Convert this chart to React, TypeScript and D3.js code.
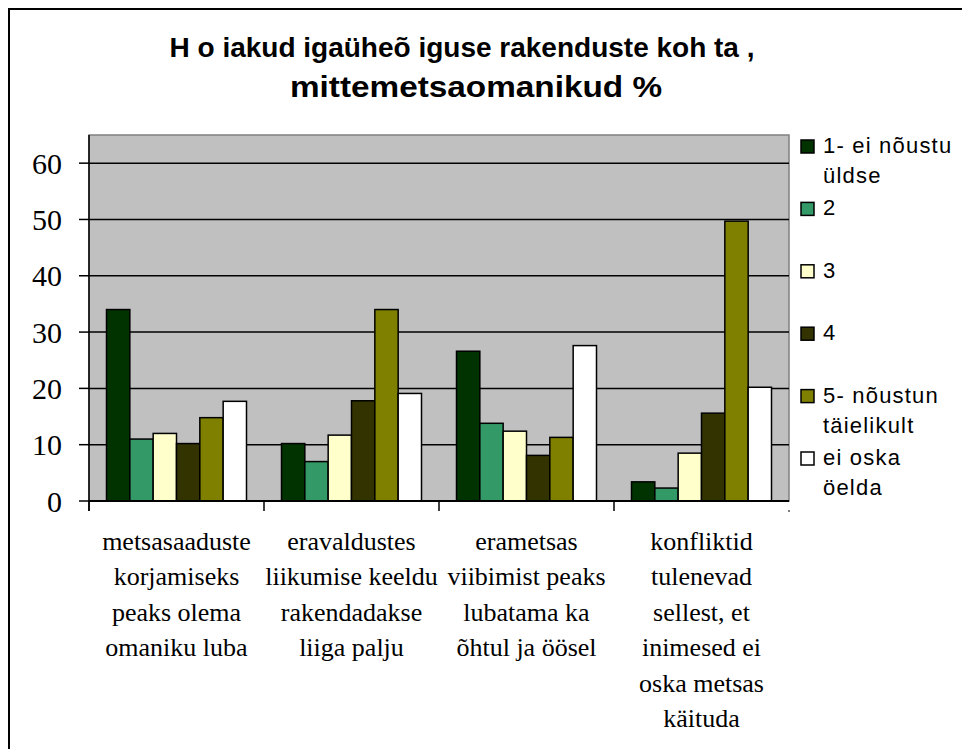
import React from "react";
import * as d3 from "d3";

const categories: string[][] = [
  ["metsasaaduste", "korjamiseks", "peaks olema", "omaniku luba"],
  ["eravaldustes", "liikumise keeldu", "rakendadakse", "liiga palju"],
  ["erametsas", "viibimist peaks", "lubatama ka", "õhtul ja öösel"],
  ["konfliktid", "tulenevad", "sellest, et", "inimesed ei", "oska metsas", "käituda"],
];

const seriesNames: string[][] = [
  ["1- ei nõustu", "üldse"],
  ["2"],
  ["3"],
  ["4"],
  ["5- nõustun", "täielikult"],
  ["ei oska", "öelda"],
];

const seriesColors = ["#003300", "#339966", "#FFFFCC", "#333300", "#808000", "#FFFFFF"];

// values[series][category]
const s1 = [34, 10.2, 26.6, 3.4];
const s2 = [11, 7.0, 13.8, 2.3];
const s3 = [12, 11.7, 12.4, 8.5];
const s4 = [10.2, 17.8, 8.1, 15.6];
const s5 = [14.8, 34, 11.3, 49.7];
const s6 = [17.7, 19.1, 27.6, 20.2];
const values = [s1, s2, s3, s4, s5, s6];

const yTicks = [0, 10, 20, 30, 40, 50, 60];

const titleLine1 = "H o iakud  igaüheõ iguse rakenduste koh ta ,";
const titleLine2 = "mittemetsaomanikud %";

export default function App() {
  const left = 89;
  const right = 789;
  const top = 135;
  const bottom = 501;

  const y = d3.scaleLinear().domain([0, 65]).range([bottom, top]);
  const x0 = d3
    .scaleBand<number>()
    .domain(categories.map((_, i) => i))
    .range([left, right])
    .paddingInner(0)
    .paddingOuter(0);
  const bw = x0.bandwidth();
  const x1 = d3
    .scaleBand<number>()
    .domain(values.map((_, i) => i))
    .range([bw * 0.1, bw * 0.9])
    .padding(0);

  const serif = "'Liberation Serif', 'Times New Roman', serif";
  const sans = "'Liberation Sans', Arial, sans-serif";

  return (
    <svg
      width={962}
      height={749}
      style={{ position: "absolute", left: 0, top: 0, background: "#fff" }}
    >
      <rect x={0} y={0} width={962} height={749} fill="#fff" />
      <rect x={9} y={9} width={1000} height={1000} fill="none" stroke="#000" strokeWidth={2} />

      {/* title */}
      <text
        x={462}
        y={57}
        textAnchor="middle"
        fontFamily={sans}
        fontWeight="bold"
        fontSize={28}
        textLength={585}
        lengthAdjust="spacingAndGlyphs"
      >
        {titleLine1}
      </text>
      <text
        x={476}
        y={97}
        textAnchor="middle"
        fontFamily={sans}
        fontWeight="bold"
        fontSize={30}
        textLength={372}
        lengthAdjust="spacingAndGlyphs"
      >
        {titleLine2}
      </text>

      {/* plot area */}
      <rect x={left} y={top} width={right - left} height={bottom - top} fill="#C0C0C0" stroke="#808080" strokeWidth={1.5} />
      {yTicks.filter((t) => t > 0).map((t) => (
        <line key={t} x1={left} x2={right} y1={y(t)} y2={y(t)} stroke="#000" strokeWidth={1.5} />
      ))}

      {/* bars */}
      {categories.map((_, ci) => (
        <g key={ci} transform={`translate(${x0(ci)},0)`}>
          {values.map((s, si) => (
            <rect
              key={si}
              x={x1(si)}
              y={y(s[ci])}
              width={x1.bandwidth()}
              height={bottom - y(s[ci])}
              fill={seriesColors[si]}
              stroke="#000"
              strokeWidth={1.5}
            />
          ))}
        </g>
      ))}

      {/* axes */}
      <line x1={left} x2={left} y1={top} y2={bottom + 10} stroke="#000" strokeWidth={1.5} />
      <line x1={left} x2={right} y1={bottom} y2={bottom} stroke="#000" strokeWidth={2} />
      {yTicks.map((t) => (
        <g key={t}>
          <line x1={left - 10} x2={left} y1={y(t)} y2={y(t)} stroke="#000" strokeWidth={1.5} />
          <text x={62} y={y(t)} dy="0.35em" textAnchor="end" fontFamily={serif} fontSize={30}>
            {t}
          </text>
        </g>
      ))}
      {categories.map((_, ci) => (
        <line key={ci} x1={x0(ci)} x2={x0(ci)} y1={bottom} y2={bottom + 10} stroke="#000" strokeWidth={1.5} />
      ))}
      <line x1={right} x2={right} y1={bottom + 9} y2={bottom + 11} stroke="#000" strokeWidth={1} />

      {/* category labels */}
      {categories.map((lines, ci) => (
        <text key={ci} textAnchor="middle" fontFamily={serif} fontSize={26}>
          {lines.map((ln, li) => (
            <tspan key={li} x={(x0(ci) as number) + bw / 2} y={550 + li * 35.4}>
              {ln}
            </tspan>
          ))}
        </text>
      ))}

      {/* legend */}
      {seriesNames.map((lines, si) => {
        const cy = 145 + si * 62.4;
        return (
          <g key={si}>
            <rect x={801} y={cy - 5} width={13} height={13} fill={seriesColors[si]} stroke="#000" strokeWidth={1.5} />
            <text fontFamily={sans} fontSize={22} letterSpacing={1.2}>
              {lines.map((ln, li) => (
                <tspan key={li} x={823} y={cy + 8 + li * 30}>
                  {ln}
                </tspan>
              ))}
            </text>
          </g>
        );
      })}
    </svg>
  );
}
